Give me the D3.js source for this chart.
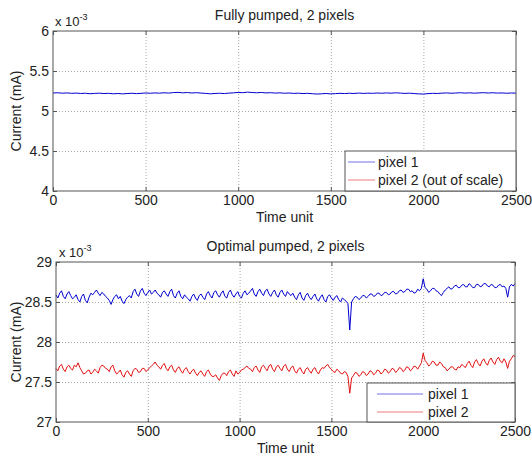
<!DOCTYPE html>
<html>
<head>
<meta charset="utf-8">
<script src="https://cdn.jsdelivr.net/npm/d3@7"></script>
<style>
  body { margin: 0; background: #fff; }
  text { font-family: "Liberation Sans", Arial, sans-serif; fill: #222; }
</style>
</head>
<body>
<div id="chart"></div>
<script>
// DATA
var xTicks = [0, 500, 1000, 1500, 2000, 2500];
var topYTicks = [4, 4.5, 5, 5.5, 6];
var bottomYTicks = [27, 27.5, 28, 28.5, 29];
var titles = ["Fully pumped, 2 pixels", "Optimal pumped, 2 pixels"];
var topLegend = ["pixel 1", "pixel 2 (out of scale)"];
var bottomLegend = ["pixel 1", "pixel 2"];

// sampled every 25 time units (values x 10^-3 mA)
var fullyPixel1 = [
  5.225, 5.228, 5.223, 5.226, 5.221, 5.224, 5.219, 5.222, 5.216, 5.220,
  5.223, 5.218, 5.221, 5.215, 5.219, 5.214, 5.218, 5.222, 5.217, 5.221,
  5.225, 5.222, 5.226, 5.223, 5.228, 5.224, 5.230, 5.233, 5.227, 5.231,
  5.225, 5.229, 5.224, 5.220, 5.215, 5.219, 5.222, 5.218, 5.224, 5.227,
  5.232, 5.229, 5.236, 5.231, 5.228, 5.232, 5.226, 5.229, 5.224, 5.227,
  5.222, 5.225, 5.220, 5.223, 5.218, 5.221, 5.216, 5.212, 5.215, 5.219,
  5.214, 5.217, 5.221, 5.218, 5.222, 5.219, 5.224, 5.220, 5.223, 5.221,
  5.225, 5.222, 5.226, 5.223, 5.227, 5.224, 5.220, 5.223, 5.218, 5.214,
  5.212, 5.217, 5.221, 5.219, 5.223, 5.226, 5.222, 5.225, 5.228, 5.224,
  5.227, 5.223, 5.226, 5.229, 5.225, 5.228, 5.224, 5.226, 5.222, 5.225,
  5.223
];

// sampled every 10 time units
var optimalPixel1 = [
  28.59, 28.55, 28.61, 28.64, 28.57, 28.54, 28.60, 28.63, 28.58, 28.54, 28.56, 28.59, 28.53, 28.50, 28.57, 28.60, 28.52, 28.49, 28.56, 28.61,
  28.59, 28.62, 28.65, 28.61, 28.58, 28.62, 28.60, 28.57, 28.55, 28.52, 28.47, 28.53, 28.57, 28.59, 28.54, 28.57, 28.51, 28.48, 28.53, 28.56,
  28.58, 28.55, 28.63, 28.66, 28.60, 28.57, 28.64, 28.67, 28.61, 28.58, 28.62, 28.65, 28.60, 28.62, 28.65, 28.61, 28.59, 28.56, 28.62, 28.64,
  28.60, 28.57, 28.63, 28.66, 28.58, 28.55, 28.61, 28.64, 28.57, 28.54, 28.59, 28.56, 28.54, 28.51, 28.57, 28.60, 28.55, 28.52, 28.58, 28.60,
  28.56, 28.53, 28.60, 28.63, 28.58, 28.55, 28.62, 28.64, 28.59, 28.56, 28.61, 28.64, 28.57, 28.55, 28.62, 28.65, 28.59, 28.56, 28.60, 28.63,
  28.57, 28.55, 28.61, 28.64, 28.59, 28.61, 28.64, 28.67, 28.60, 28.57, 28.63, 28.66, 28.61, 28.58, 28.64, 28.66, 28.60, 28.57, 28.62, 28.65,
  28.59, 28.56, 28.62, 28.65, 28.60, 28.57, 28.63, 28.60, 28.58, 28.61, 28.56, 28.53, 28.59, 28.62, 28.55, 28.52, 28.58, 28.61, 28.56, 28.53,
  28.57, 28.60, 28.54, 28.51, 28.56, 28.59, 28.53, 28.50, 28.57, 28.59, 28.55, 28.52, 28.56, 28.58, 28.53, 28.50, 28.55, 28.53, 28.51, 28.48,
  28.15, 28.50, 28.54, 28.57, 28.56, 28.53, 28.55, 28.58, 28.58, 28.55, 28.57, 28.60, 28.60, 28.57, 28.58, 28.61, 28.61, 28.58, 28.59, 28.62,
  28.62, 28.59, 28.60, 28.63, 28.63, 28.60, 28.61, 28.64, 28.65, 28.62, 28.63, 28.66, 28.66, 28.63, 28.64, 28.61, 28.62, 28.66, 28.64, 28.67,
  28.79, 28.68, 28.66, 28.62, 28.64, 28.67, 28.67, 28.64, 28.63, 28.60, 28.58, 28.62, 28.65, 28.67, 28.69, 28.66, 28.67, 28.70, 28.71, 28.68,
  28.68, 28.71, 28.72, 28.69, 28.69, 28.73, 28.71, 28.68, 28.68, 28.72, 28.72, 28.69, 28.70, 28.73, 28.73, 28.70, 28.69, 28.72, 28.71, 28.68,
  28.68, 28.71, 28.72, 28.69, 28.70, 28.67, 28.56, 28.69, 28.72, 28.70, 28.73
];

var optimalPixel2 = [
  27.67, 27.64, 27.70, 27.72, 27.66, 27.63, 27.69, 27.71, 27.67, 27.65, 27.71, 27.69, 27.74, 27.68, 27.64, 27.60, 27.61, 27.64, 27.65, 27.60,
  27.62, 27.66, 27.64, 27.61, 27.68, 27.71, 27.70, 27.67, 27.66, 27.63, 27.69, 27.71, 27.64, 27.60, 27.62, 27.65, 27.59, 27.56, 27.62, 27.64,
  27.60, 27.57, 27.64, 27.67, 27.66, 27.62, 27.63, 27.67, 27.67, 27.63, 27.65, 27.68, 27.70, 27.72, 27.75, 27.71, 27.69, 27.66, 27.71, 27.73,
  27.67, 27.64, 27.69, 27.71, 27.65, 27.62, 27.67, 27.69, 27.64, 27.61, 27.66, 27.68, 27.63, 27.60, 27.64, 27.66, 27.61, 27.58, 27.62, 27.64,
  27.60, 27.57, 27.63, 27.65, 27.60, 27.57, 27.57, 27.59, 27.55, 27.52, 27.58, 27.61, 27.61, 27.58, 27.63, 27.65, 27.60, 27.57, 27.64, 27.60,
  27.62, 27.65, 27.66, 27.68, 27.70, 27.67, 27.66, 27.63, 27.68, 27.70, 27.65, 27.62, 27.69, 27.71, 27.67, 27.64, 27.70, 27.72, 27.66, 27.63,
  27.69, 27.71, 27.67, 27.64, 27.70, 27.72, 27.66, 27.63, 27.68, 27.70, 27.64, 27.61, 27.66, 27.68, 27.63, 27.60, 27.66, 27.68, 27.64, 27.61,
  27.66, 27.68, 27.63, 27.60, 27.65, 27.68, 27.67, 27.70, 27.72, 27.68, 27.66, 27.63, 27.62, 27.66, 27.64, 27.61, 27.60, 27.63, 27.62, 27.57,
  27.36, 27.55, 27.58, 27.62, 27.61, 27.57, 27.59, 27.63, 27.62, 27.58, 27.60, 27.64, 27.63, 27.59, 27.61, 27.65, 27.64, 27.60, 27.62, 27.66,
  27.65, 27.61, 27.63, 27.67, 27.66, 27.62, 27.64, 27.68, 27.67, 27.63, 27.65, 27.69, 27.68, 27.64, 27.66, 27.70, 27.69, 27.66, 27.70, 27.74,
  27.86, 27.77, 27.74, 27.70, 27.72, 27.76, 27.75, 27.71, 27.71, 27.75, 27.73, 27.69, 27.68, 27.64, 27.66, 27.69, 27.69, 27.66, 27.65, 27.69,
  27.68, 27.72, 27.70, 27.68, 27.73, 27.76, 27.71, 27.68, 27.75, 27.78, 27.73, 27.70, 27.76, 27.79, 27.74, 27.71, 27.77, 27.80, 27.75, 27.72,
  27.78, 27.81, 27.76, 27.74, 27.79, 27.75, 27.67, 27.76, 27.79, 27.83, 27.82
];

// CHART SETUP
var blue = "#0000d0";
var red = "#e31010";
var fontSize = 14;

var svg = d3
  .select("#chart")
  .append("svg")
  .attr("width", 532)
  .attr("height", 455)
  .style("background", "#fff");

function drawPanel(p) {
  var xScale = d3.scaleLinear().domain([0, 2500]).range([p.left, p.right]);
  var yScale = d3.scaleLinear().domain(p.yDomain).range([p.bottom, p.top]);
  var g = svg.append("g");
  var w = p.right - p.left,
    h = p.bottom - p.top;

  // GRID
  var gridX = g
    .append("g")
    .attr("transform", "translate(0," + p.bottom + ")")
    .call(d3.axisBottom(xScale).tickValues(xTicks.slice(1, -1)).tickSize(-h).tickFormat(""));
  var gridY = g
    .append("g")
    .attr("transform", "translate(" + p.left + ",0)")
    .call(d3.axisLeft(yScale).tickValues(p.yTicks.slice(1, -1)).tickSize(-w).tickFormat(""));
  [gridX, gridY].forEach(function (a) {
    a.select(".domain").remove();
    a.selectAll("line")
      .attr("stroke", "#a8a8a8")
      .attr("stroke-dasharray", "1,2");
  });

  // LINES
  p.series.forEach(function (s) {
    var line = d3
      .line()
      .x((d, i) => xScale(i * s.step))
      .y((d) => yScale(d));
    g.append("path")
      .datum(s.values)
      .attr("fill", "none")
      .attr("stroke", s.color)
      .attr("stroke-width", 1)
      .attr("stroke-linejoin", "round")
      .attr("d", line);
  });

  // AXES (MATLAB style, ticks inside on all sides)
  var xb = g
    .append("g")
    .attr("transform", "translate(0," + p.bottom + ")")
    .call(d3.axisBottom(xScale).tickValues(xTicks).tickSizeInner(-4).tickSizeOuter(0).tickPadding(4).tickFormat(d3.format("d")));
  var xt = g
    .append("g")
    .attr("transform", "translate(0," + p.top + ")")
    .call(d3.axisTop(xScale).tickValues(xTicks).tickSizeInner(-4).tickSizeOuter(0).tickFormat(""));
  var yl = g
    .append("g")
    .attr("transform", "translate(" + p.left + ",0)")
    .call(d3.axisLeft(yScale).tickValues(p.yTicks).tickSizeInner(-4).tickSizeOuter(0).tickPadding(4).tickFormat(d3.format("")));
  var yr = g
    .append("g")
    .attr("transform", "translate(" + p.right + ",0)")
    .call(d3.axisRight(yScale).tickValues(p.yTicks).tickSizeInner(-4).tickSizeOuter(0).tickFormat(""));
  [xb, xt, yl, yr].forEach(function (a) {
    a.select(".domain").remove();
    a.selectAll("line").attr("stroke", "#555");
    a.selectAll("text")
      .style("font-size", fontSize + "px")
      .style("font-family", '"Liberation Sans", Arial, sans-serif')
      .attr("fill", "#222");
  });

  g.append("rect")
    .attr("x", p.left)
    .attr("y", p.top)
    .attr("width", w)
    .attr("height", h)
    .attr("fill", "none")
    .attr("stroke", "#555")
    .attr("stroke-width", 1);

  // TITLE / LABELS
  g.append("text")
    .attr("x", (p.left + p.right) / 2)
    .attr("y", p.top - 11)
    .attr("text-anchor", "middle")
    .style("font-size", fontSize + "px")
    .text(p.title);

  var ex = g
    .append("text")
    .attr("x", p.expX)
    .attr("y", p.top - 5)
    .style("font-size", "13px");
  ex.append("tspan").text("x 10");
  ex.append("tspan")
    .attr("dy", -6)
    .style("font-size", "9px")
    .text("-3");

  g.append("text")
    .attr("x", (p.left + p.right) / 2)
    .attr("y", p.bottom + 31)
    .attr("text-anchor", "middle")
    .style("font-size", fontSize + "px")
    .text("Time unit");

  g.append("text")
    .attr("transform", "translate(" + 21 + "," + (p.top + h / 2) + ") rotate(-90)")
    .attr("text-anchor", "middle")
    .style("font-size", fontSize + "px")
    .text("Current (mA)");

  // LEGEND
  var L = p.legend;
  g.append("rect")
    .attr("x", L.x)
    .attr("y", L.y)
    .attr("width", L.w)
    .attr("height", L.h)
    .attr("fill", "#fff")
    .attr("stroke", "#555");
  L.labels.forEach(function (label, i) {
    var yy = L.y + 11 + i * 18;
    g.append("line")
      .attr("x1", L.x1)
      .attr("x2", L.x2)
      .attr("y1", yy)
      .attr("y2", yy)
      .attr("stroke", [blue, red][i])
      .attr("stroke-opacity", 0.55);
    g.append("text")
      .attr("x", L.tx)
      .attr("y", yy + 5)
      .style("font-size", fontSize + "px")
      .text(label);
  });
}

drawPanel({
  left: 53, right: 516, top: 31, bottom: 191,
  yDomain: [4, 6], yTicks: topYTicks,
  title: titles[0], expX: 55,
  series: [{ values: fullyPixel1, step: 25, color: blue }],
  legend: { labels: topLegend, x: 345, y: 151, w: 171, h: 40, x1: 348, x2: 375, tx: 378 },
});

drawPanel({
  left: 56, right: 515, top: 262, bottom: 422,
  yDomain: [27, 29], yTicks: bottomYTicks,
  title: titles[1], expX: 59,
  series: [
    { values: optimalPixel1, step: 10, color: blue },
    { values: optimalPixel2, step: 10, color: red },
  ],
  legend: { labels: bottomLegend, x: 367, y: 383, w: 148, h: 39, x1: 377, x2: 423, tx: 428 },
});
</script>
</body>
</html>
